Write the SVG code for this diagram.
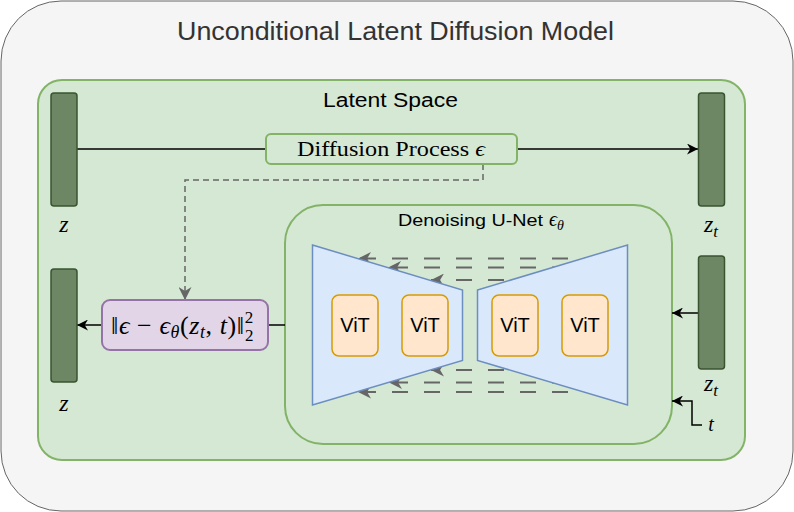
<svg xmlns="http://www.w3.org/2000/svg" width="794" height="512" viewBox="0 0 794 512">
<defs>
<style>
.sans{font-family:"Liberation Sans",Arial,sans-serif;}
.serif{font-family:"Liberation Serif","Times New Roman",serif;}
.bar{fill:#6d8764;stroke:#3a5431;stroke-width:1.5;}
.vit{fill:#ffe6cc;stroke:#d79b00;stroke-width:1.5;}
.trap{fill:#dae8fc;stroke:#6c8ebf;stroke-width:1.5;}
.conn{fill:none;stroke:#000;stroke-width:1.5;}
.dash{fill:none;stroke:#666;stroke-width:2;stroke-dasharray:16 16;}
.dash2{fill:none;stroke:#666;stroke-width:1.5;stroke-dasharray:6 4;}
</style>
<marker id="ab" viewBox="0 0 10 10" refX="10" refY="5" markerWidth="11" markerHeight="11" markerUnits="userSpaceOnUse" orient="auto">
<path d="M0,0 L10,5 L0,10 L3,5 z" fill="#000"/>
</marker>
<marker id="ag" viewBox="0 0 10 10" refX="10" refY="5" markerWidth="13" markerHeight="13" markerUnits="userSpaceOnUse" orient="auto">
<path d="M0,0 L10,5 L0,10 L3,5 z" fill="#666"/>
</marker>
</defs>

<g id="outer">
<rect x="1" y="1" width="792" height="510" rx="60" ry="60" fill="#f5f5f5" stroke="#666" stroke-width="1"/>
<text class="sans" x="177" y="40" font-size="25" fill="#333" textLength="437" lengthAdjust="spacingAndGlyphs">Unconditional Latent Diffusion Model</text>
</g>

<g id="latent-space">
<rect x="38" y="80" width="707" height="380" rx="24" ry="24" fill="#d5e8d4" stroke="#82b366" stroke-width="2"/>
<text class="sans" x="323" y="107" font-size="20" fill="#000" textLength="135" lengthAdjust="spacingAndGlyphs">Latent Space</text>
</g>

<g id="unet">
<rect x="285" y="205" width="387" height="239" rx="38" ry="38" fill="#d5e8d4" stroke="#82b366" stroke-width="2"/>
<text class="sans" x="398" y="226" font-size="17" fill="#000"><tspan textLength="145" lengthAdjust="spacingAndGlyphs">Denoising U-Net</tspan><tspan class="serif" font-style="italic" font-size="20" dx="6">ϵ</tspan><tspan class="serif" font-style="italic" font-size="14" dy="4">θ</tspan></text>
</g>

<g id="connectors">
<path class="conn" d="M77,149 L266,149"/>
<path class="conn" d="M517,149 L698,149" marker-end="url(#ab)"/>
<path class="dash2" d="M483,164 L483,180 L185,180 L185,300" marker-end="url(#ag)"/>
<path class="conn" d="M102,325 L77,325" marker-end="url(#ab)"/>
<path class="conn" d="M268,325 L285,325"/>
<path class="conn" d="M698,313 L672,313" marker-end="url(#ab)"/>
<path class="conn" d="M702,425 L692,425 L692,401 L672,401" marker-end="url(#ab)"/>
<path class="dash" d="M600,258.5 L358,258.5" marker-end="url(#ag)"/>
<path class="dash" d="M600,267.5 L388,267.5" marker-end="url(#ag)"/>
<path class="dash" d="M600,280 L431,280" marker-end="url(#ag)"/>
<path class="dash" d="M600,370 L431,370" marker-end="url(#ag)"/>
<path class="dash" d="M600,382.5 L389,382.5" marker-end="url(#ag)"/>
<path class="dash" d="M600,392 L358,392" marker-end="url(#ag)"/>
</g>

<g id="encoder">
<polygon class="trap" points="312.5,245 462.5,290 462.5,360.5 312.5,405"/>
</g>
<g id="decoder">
<polygon class="trap" points="477.5,290 627.5,245 627.5,405 477.5,360.5"/>
</g>

<g id="vit1"><rect class="vit" x="332" y="295" width="46" height="61" rx="7"/><text class="sans" x="355" y="332" font-size="20" text-anchor="middle">ViT</text></g>
<g id="vit2"><rect class="vit" x="402" y="295" width="46" height="61" rx="7"/><text class="sans" x="425" y="332" font-size="20" text-anchor="middle">ViT</text></g>
<g id="vit3"><rect class="vit" x="492" y="295" width="46" height="61" rx="7"/><text class="sans" x="515" y="332" font-size="20" text-anchor="middle">ViT</text></g>
<g id="vit4"><rect class="vit" x="562" y="295" width="46" height="61" rx="7"/><text class="sans" x="585" y="332" font-size="20" text-anchor="middle">ViT</text></g>

<g id="diffusion-process">
<rect x="266" y="134" width="251" height="30" rx="5" fill="#d5e8d4" stroke="#82b366" stroke-width="2"/>
<text class="serif" x="297" y="156" font-size="22" textLength="188" lengthAdjust="spacingAndGlyphs">Diffusion Process <tspan font-style="italic">ϵ</tspan></text>
</g>

<g id="loss">
<rect x="102" y="300" width="166" height="50" rx="8" fill="#e1d5e7" stroke="#9673a6" stroke-width="2"/>
<text class="serif" x="111" y="334" font-size="26" letter-spacing="0.6">‖<tspan font-style="italic">ϵ</tspan> − <tspan font-style="italic">ϵ</tspan><tspan font-style="italic" font-size="18" dy="4">θ</tspan><tspan dy="-4">(</tspan><tspan font-style="italic">z</tspan><tspan font-style="italic" font-size="18" dy="4">t</tspan><tspan dy="-4">, </tspan><tspan font-style="italic">t</tspan>)‖<tspan font-size="17" dy="-11">2</tspan><tspan font-size="17" dx="-9" dy="18">2</tspan></text>
</g>

<g id="z-top"><rect class="bar" x="51" y="93" width="26" height="113" rx="3"/><text class="serif" x="64" y="232" font-size="24" font-style="italic" text-anchor="middle">z</text></g>
<g id="z-bottom"><rect class="bar" x="51" y="269" width="26" height="113" rx="3"/><text class="serif" x="64" y="411" font-size="24" font-style="italic" text-anchor="middle">z</text></g>
<g id="zt-top"><rect class="bar" x="698.5" y="93" width="26" height="113" rx="3"/><text class="serif" x="711" y="232" font-size="24" font-style="italic" text-anchor="middle">z<tspan font-size="17" dy="5">t</tspan></text></g>
<g id="zt-bottom"><rect class="bar" x="698.5" y="256" width="26" height="113" rx="3"/><text class="serif" x="711" y="391" font-size="24" font-style="italic" text-anchor="middle">z<tspan font-size="17" dy="5">t</tspan></text></g>
<g id="t-label"><text class="serif" x="711" y="431" font-size="20" font-style="italic" text-anchor="middle">t</text></g>
</svg>
